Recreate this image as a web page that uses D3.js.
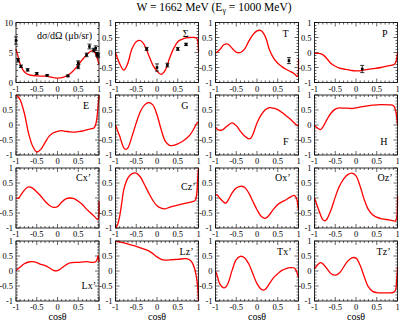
<!DOCTYPE html>
<html>
<head>
<meta charset="utf-8">
<script src="https://cdn.jsdelivr.net/npm/d3@7"></script>
<style>
  body { margin: 0; background: #fff; }
  text { font-family: "Liberation Serif", "Times New Roman", serif; fill: #000; }
</style>
</head>
<body>
<div id="chart"></div>
<script>
// curves, [cosθ, value]
const dsdoCurve = [[-1,5.6],[-0.95,4.3],[-0.9,3.1],[-0.8,1.8],[-0.7,1.3],[-0.5,1.1],[-0.3,1.05],[-0.1,0.83],[0,0.72],[0.15,0.9],[0.3,1.45],[0.4,2.1],[0.5,2.9],[0.6,3.8],[0.7,4.6],[0.8,5.2],[0.85,5.3],[0.9,5.0],[0.95,4.2],[1,3.0]];
const dsdoData = [[-1,7.0,0.6],[-0.95,3.7,0.3],[-0.88,2.7,0.2],[-0.72,2.1,0.2],[-0.5,1.5,0.15],[-0.25,1.2,0.1],[0.25,1.1,0.15],[0.5,3.3,0.3],[0.5,2.6,0.3],[0.7,4.6,0.3],[0.77,6.0,0.4],[0.87,5.4,0.3],[0.92,5.7,0.4],[0.95,4.7,0.3],[0.98,4.5,0.3]];
const sigmaCurve = [[-1,0],[-0.9,-0.37],[-0.8,-0.59],[-0.72,-0.42],[-0.6,0.13],[-0.5,0.36],[-0.4,0.4],[-0.3,0.24],[-0.2,-0.09],[-0.1,-0.42],[0,-0.62],[0.1,-0.73],[0.2,-0.59],[0.3,-0.2],[0.4,0.13],[0.5,0.36],[0.6,0.44],[0.7,0.49],[0.8,0.5],[0.9,0.5],[0.96,0.47],[1,0.02]];
const sigmaData = [[-0.25,0.12,0.05],[0,-0.5,0.12],[0.25,-0.42,0.06],[0.5,0.12,0.05],[0.7,0.27,0.04]];
const tCurve = [[-1,-0.02],[-0.9,0.09],[-0.8,0.26],[-0.7,0.28],[-0.6,0.14],[-0.5,0.01],[-0.4,0],[-0.3,0.11],[-0.2,0.37],[-0.1,0.59],[0,0.72],[0.1,0.73],[0.2,0.53],[0.3,0.09],[0.4,-0.19],[0.5,-0.36],[0.6,-0.47],[0.7,-0.56],[0.8,-0.63],[0.9,-0.71],[0.97,-0.8],[1,-0.22]];
const tData = [[0.77,-0.27,0.1]];
const pCurve = [[-1,-0.03],[-0.9,-0.03],[-0.8,-0.07],[-0.7,-0.21],[-0.6,-0.37],[-0.5,-0.46],[-0.4,-0.52],[-0.3,-0.55],[-0.2,-0.57],[-0.1,-0.6],[0,-0.61],[0.1,-0.61],[0.2,-0.58],[0.4,-0.54],[0.6,-0.5],[0.8,-0.44],[0.9,-0.41],[0.95,-0.35],[1,0]];
const pData = [[0.15,-0.55,0.12]];
const eCurve = [[-1,1],[-0.95,0.94],[-0.9,0.84],[-0.8,0.4],[-0.7,-0.26],[-0.6,-0.7],[-0.5,-0.9],[-0.4,-0.81],[-0.3,-0.59],[-0.2,-0.37],[-0.1,-0.26],[0,-0.21],[0.1,-0.19],[0.2,-0.21],[0.3,-0.23],[0.4,-0.24],[0.5,-0.22],[0.6,-0.2],[0.7,-0.16],[0.8,-0.13],[0.88,-0.1],[0.93,0.07],[0.97,0.5],[1,1]];
const gCurve = [[-1,0],[-0.9,-0.37],[-0.8,-0.76],[-0.75,-0.81],[-0.7,-0.76],[-0.6,-0.37],[-0.5,0.07],[-0.4,0.45],[-0.3,0.67],[-0.2,0.75],[-0.1,0.67],[0,0.34],[0.1,-0.15],[0.2,-0.54],[0.3,-0.68],[0.4,-0.68],[0.5,-0.63],[0.6,-0.56],[0.7,-0.46],[0.8,-0.32],[0.9,-0.1],[0.95,0.04],[1,0.09]];
const fCurve = [[-1,-0.07],[-0.95,-0.15],[-0.85,-0.17],[-0.75,-0.07],[-0.65,0.04],[-0.6,0.07],[-0.5,-0.02],[-0.4,-0.21],[-0.3,-0.37],[-0.2,-0.46],[-0.15,-0.44],[-0.1,-0.32],[0,0.07],[0.1,0.34],[0.2,0.51],[0.3,0.58],[0.4,0.56],[0.5,0.51],[0.6,0.42],[0.7,0.31],[0.8,0.2],[0.9,0.07],[1,-0.04]];
const hCurve = [[-1,-0.02],[-0.9,-0.13],[-0.85,-0.15],[-0.8,-0.07],[-0.7,0.18],[-0.6,0.4],[-0.5,0.53],[-0.4,0.57],[-0.3,0.56],[-0.2,0.56],[-0.1,0.55],[0,0.57],[0.2,0.62],[0.4,0.66],[0.6,0.68],[0.8,0.67],[0.9,0.65],[0.95,0.51],[1,0.01]];
const cxCurve = [[-1,0],[-0.95,-0.01],[-0.9,0.06],[-0.8,0.26],[-0.7,0.37],[-0.6,0.33],[-0.5,0.2],[-0.4,0.06],[-0.3,-0.11],[-0.2,-0.24],[-0.1,-0.31],[0,-0.29],[0.1,-0.14],[0.2,-0.03],[0.3,0],[0.4,-0.02],[0.5,-0.11],[0.6,-0.22],[0.7,-0.37],[0.8,-0.5],[0.9,-0.63],[0.97,-0.72],[1,-0.1]];
const czCurve = [[-1,-1],[-0.95,-0.89],[-0.9,-0.61],[-0.85,-0.17],[-0.8,0.28],[-0.7,0.67],[-0.6,0.81],[-0.5,0.83],[-0.4,0.7],[-0.3,0.44],[-0.2,0.17],[-0.1,-0.08],[0,-0.26],[0.1,-0.34],[0.2,-0.36],[0.3,-0.31],[0.5,-0.24],[0.7,-0.17],[0.85,-0.12],[0.92,-0.08],[0.96,0.17],[0.98,0.61],[1,1]];
const oxCurve = [[-1,0.11],[-0.95,0.09],[-0.9,0],[-0.8,-0.14],[-0.75,-0.17],[-0.7,-0.08],[-0.6,0.17],[-0.5,0.33],[-0.4,0.39],[-0.3,0.36],[-0.2,0.17],[-0.1,-0.11],[0,-0.39],[0.1,-0.61],[0.2,-0.68],[0.3,-0.56],[0.4,-0.37],[0.5,-0.22],[0.6,-0.13],[0.7,-0.06],[0.8,0.03],[0.9,0.09],[0.95,0],[1,-0.39]];
const ozCurve = [[-1,0],[-0.9,-0.39],[-0.8,-0.72],[-0.75,-0.76],[-0.7,-0.7],[-0.6,-0.39],[-0.5,0.03],[-0.4,0.39],[-0.3,0.63],[-0.2,0.78],[-0.1,0.83],[0,0.74],[0.1,0.39],[0.2,-0.06],[0.3,-0.39],[0.4,-0.56],[0.5,-0.64],[0.6,-0.69],[0.7,-0.71],[0.8,-0.73],[0.9,-0.76],[0.95,-0.77],[0.98,-0.67],[1,0.06]];
const lxCurve = [[-1,0.02],[-0.9,0.13],[-0.8,0.24],[-0.7,0.3],[-0.6,0.31],[-0.5,0.28],[-0.4,0.22],[-0.3,0.18],[-0.2,0.11],[-0.1,0.02],[0,0.01],[0.1,0.1],[0.2,0.2],[0.3,0.27],[0.5,0.29],[0.7,0.31],[0.85,0.29],[0.92,0.31],[0.96,0.41],[0.98,0.51],[1,0.3]];
const lzCurve = [[-1,0.99],[-0.8,0.94],[-0.6,0.86],[-0.4,0.77],[-0.2,0.67],[-0.1,0.58],[0,0.47],[0.1,0.39],[0.2,0.36],[0.3,0.37],[0.5,0.39],[0.7,0.41],[0.8,0.36],[0.85,0.27],[0.9,0.11],[0.95,-0.2],[0.98,-0.53],[1,-1]];
const txCurve = [[-1,0],[-0.95,-0.2],[-0.9,-0.42],[-0.8,-0.56],[-0.75,-0.53],[-0.7,-0.42],[-0.6,0.02],[-0.5,0.38],[-0.4,0.49],[-0.3,0.44],[-0.2,0.24],[-0.1,-0.09],[0,-0.42],[0.1,-0.61],[0.15,-0.64],[0.2,-0.61],[0.3,-0.42],[0.4,-0.22],[0.5,-0.09],[0.6,0.02],[0.7,0.08],[0.8,0.11],[0.9,0.1],[0.95,0],[1,-0.22]];
const tzCurve = [[-1,0.08],[-0.9,0.24],[-0.85,0.28],[-0.8,0.24],[-0.7,0.08],[-0.6,-0.09],[-0.5,-0.14],[-0.4,-0.07],[-0.3,0.13],[-0.2,0.33],[-0.1,0.44],[0,0.43],[0.1,0.19],[0.2,-0.2],[0.3,-0.53],[0.4,-0.68],[0.5,-0.72],[0.6,-0.73],[0.7,-0.73],[0.8,-0.73],[0.9,-0.71],[0.95,-0.64],[0.98,-0.31],[1,0.13]];

const panelNames = ["dσ/dΩ (μb/sr)","Σ","T","P","E","G","F","H","Cx’","Cz’","Ox’","Oz’","Lx’","Lz’","Tx’","Tz’"];
const xTicks = [-1,-0.5,0,0.5,1];
const yTicks = [-1,-0.5,0,0.5,1];
const dsdoTicks = [0,5,10];

const panels = [
  {curve: dsdoCurve, pts: dsdoData, ymax: 10},
  {curve: sigmaCurve, pts: sigmaData},
  {curve: tCurve, pts: tData},
  {curve: pCurve, pts: pData},
  {curve: eCurve}, {curve: gCurve}, {curve: fCurve}, {curve: hCurve},
  {curve: cxCurve}, {curve: czCurve}, {curve: oxCurve}, {curve: ozCurve},
  {curve: lxCurve}, {curve: lzCurve}, {curve: txCurve}, {curve: tzCurve}
];
// label placement: [dx from right edge, baseline from top]
const labelPos = [[7,16],[10,14],[10,14],[10,14],[10,14],[10,14],[10,50],[10,50],[8,13],[3,22],[8,13],[5,13],[3,48],[5,14],[7,14],[7,14]];

const W = 399, H = 321;
const colX = [16, 115.5, 215.5, 314.5], rowY = [22.5, 95, 168, 241];
const pw = 83, ph = 60;

const svg = d3.select("#chart").append("svg")
  .attr("width", W).attr("height", H);

svg.append("text")
  .attr("x", 214).attr("y", 10.5)
  .attr("text-anchor", "middle")
  .style("font-size", "11.5px")
  .html('W = 1662 MeV (E<tspan dy="2.5" style="font-size:8px">γ</tspan><tspan dy="-2.5"> = 1000 MeV)</tspan>');

panels.forEach(function(p, i) {
  let col = i % 4, row = Math.floor(i / 4);
  let g = svg.append("g").attr("transform", `translate(${colX[col]},${rowY[row]})`);
  let x = d3.scaleLinear().domain([-1, 1]).range([0, pw]);
  let ymax = p.ymax || 1, ymin = p.ymax ? 0 : -1;
  let y = d3.scaleLinear().domain([ymin, ymax]).range([ph, 0]);
  let yt = p.ymax ? dsdoTicks : yTicks;
  let yMinor = p.ymax ? d3.range(0, 10.01, 1) : d3.range(-1, 1.001, 0.1);
  let xMinor = d3.range(-1, 1.001, 0.1);

  // ticks on all four sides, pointing in
  let tk = g.append("g").attr("stroke", "#000").attr("stroke-width", 0.6);
  xMinor.forEach(function(v) {
    let big = Math.abs(v * 2 - Math.round(v * 2)) < 1e-6;
    let len = big ? 4 : 2;
    tk.append("line").attr("x1", x(v)).attr("x2", x(v)).attr("y1", ph).attr("y2", ph - len);
    tk.append("line").attr("x1", x(v)).attr("x2", x(v)).attr("y1", 0).attr("y2", len);
  });
  yMinor.forEach(function(v) {
    let big = p.ymax ? (Math.round(v) % 5 == 0) : Math.abs(v * 2 - Math.round(v * 2)) < 1e-6;
    let len = big ? 4 : 2;
    tk.append("line").attr("y1", y(v)).attr("y2", y(v)).attr("x1", 0).attr("x2", len);
    tk.append("line").attr("y1", y(v)).attr("y2", y(v)).attr("x1", pw).attr("x2", pw - len);
  });

  // tick labels
  g.selectAll(".xl").data(xTicks).enter().append("text")
    .attr("x", d => x(d)).attr("y", ph + 9)
    .attr("text-anchor", "middle").style("font-size", "8.5px")
    .text(d => d);
  g.selectAll(".yl").data(yt).enter().append("text")
    .attr("x", -3).attr("y", d => y(d) + 3)
    .attr("text-anchor", "end").style("font-size", "8.5px")
    .text(d => d);

  // curve
  let line = d3.line().x(d => x(d[0])).y(d => y(d[1])).curve(d3.curveCatmullRom.alpha(0.5));
  g.append("path").datum(p.curve)
    .attr("d", line)
    .attr("fill", "none").attr("stroke", "#ff0000").attr("stroke-width", 1.3);

  // data points with error bars
  if (p.pts) {
    let pg = g.append("g").attr("stroke", "#000").attr("stroke-width", 0.8);
    p.pts.forEach(function(d) {
      let cx = x(d[0]);
      pg.append("line").attr("x1", cx).attr("x2", cx).attr("y1", y(d[1] - d[2])).attr("y2", y(d[1] + d[2]));
      pg.append("line").attr("x1", cx - 2).attr("x2", cx + 2).attr("y1", y(d[1] - d[2])).attr("y2", y(d[1] - d[2]));
      pg.append("line").attr("x1", cx - 2).attr("x2", cx + 2).attr("y1", y(d[1] + d[2])).attr("y2", y(d[1] + d[2]));
      pg.append("rect").attr("x", cx - 1.3).attr("y", y(d[1]) - 1.3).attr("width", 2.6).attr("height", 2.6).attr("fill", "#000").attr("stroke", "none");
    });
  }

  g.append("rect").attr("width", pw).attr("height", ph)
    .attr("fill", "none").attr("stroke", "#000").attr("stroke-width", 0.8);

  g.append("text")
    .attr("x", pw - labelPos[i][0]).attr("y", labelPos[i][1])
    .attr("text-anchor", "end").style("font-size", "10px")
    .text(panelNames[i]);

  if (row == 3) {
    g.append("text").attr("x", pw / 2).attr("y", ph + 19)
      .attr("text-anchor", "middle").style("font-size", "10px")
      .text("cosθ");
  }
});
</script>
</body>
</html>
